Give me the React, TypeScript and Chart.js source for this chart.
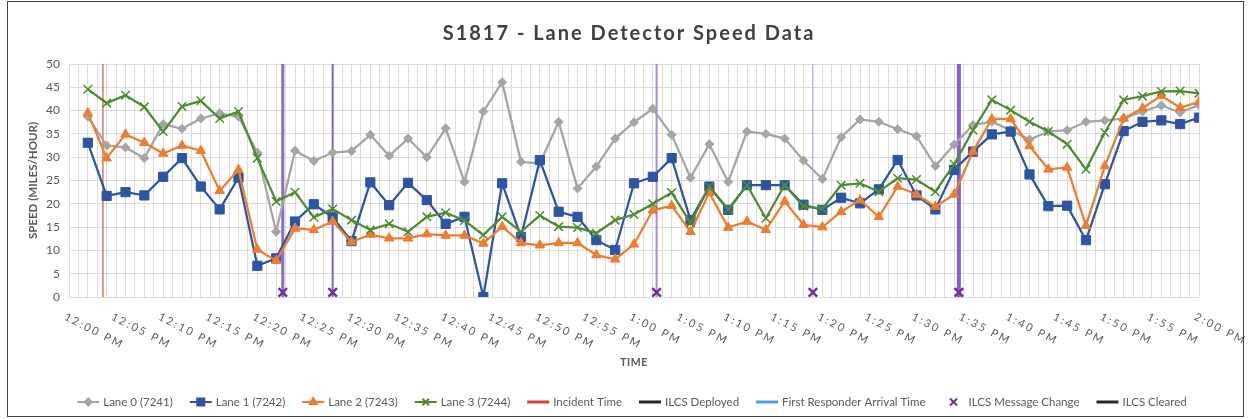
import React, { useEffect, useRef } from 'react';
import { Chart, registerables } from 'chart.js';
import { drawPoint } from 'chart.js/helpers';

Chart.register(...registerables);

const FONT = 'Lato, "Open Sans", sans-serif';

const TITLE = 'S1817 - Lane Detector Speed Data';
const Y_TITLE = 'SPEED (MILES/HOUR)';
const X_TITLE = 'TIME';

// minutes after 12:00 PM
const MINUTES = [
  2, 4, 6, 8, 10, 12, 14, 16, 18, 20, 22, 24, 26, 28, 30, 32, 34, 36, 38, 40,
  42, 44, 46, 48, 50, 52, 54, 56, 58, 60, 62, 64, 66, 68, 70, 72, 74, 76, 78, 80,
  82, 84, 86, 88, 90, 92, 94, 96, 98, 100, 102, 104, 106, 108, 110, 112, 114, 116, 118, 120,
];

const TICK_MINUTES = [0, 5, 10, 15, 20, 25, 30, 35, 40, 45, 50, 55, 60, 65, 70, 75, 80, 85, 90, 95, 100, 105, 110, 115, 120];
const TICK_LABELS = [
  '12:00 PM', '12:05 PM', '12:10 PM', '12:15 PM', '12:20 PM', '12:25 PM', '12:30 PM', '12:35 PM',
  '12:40 PM', '12:45 PM', '12:50 PM', '12:55 PM', '1:00 PM', '1:05 PM', '1:10 PM', '1:15 PM',
  '1:20 PM', '1:25 PM', '1:30 PM', '1:35 PM', '1:40 PM', '1:45 PM', '1:50 PM', '1:55 PM', '2:00 PM',
];

const SERIES_NAMES = ['Lane 0 (7241)', 'Lane 1 (7242)', 'Lane 2 (7243)', 'Lane 3 (7244)'];

const LANE0 = [
  38.7, 32.5, 32.1, 29.8, 37.1, 36.1, 38.3, 39.4, 38.7, 31.0,
  14.0, 31.4, 29.2, 31.0, 31.3, 34.8, 30.3, 34.0, 30.0, 36.2,
  24.7, 39.8, 46.1, 29.0, 28.7, 37.6, 23.3, 28.0, 34.0, 37.5,
  40.4, 34.8, 25.6, 32.8, 24.7, 35.5, 35.0, 34.0, 29.3, 25.3,
  34.3, 38.1, 37.6, 36.0, 34.5, 28.1, 32.7, 36.9, 37.6, 35.8,
  33.8, 35.5, 35.8, 37.6, 37.9, 38.3, 39.8, 41.1, 39.6, 41.2,
];
const LANE1 = [
  33.1, 21.7, 22.5, 21.8, 25.8, 29.8, 23.7, 18.8, 25.6, 6.7,
  8.3, 16.2, 19.9, 17.1, 12.0, 24.6, 19.7, 24.5, 20.8, 15.7,
  17.2, 0, 24.4, 12.9, 29.4, 18.3, 17.2, 12.2, 10.1, 24.4,
  25.8, 29.8, 16.5, 23.7, 18.7, 24.0, 24.0, 24.0, 19.8, 18.7,
  21.3, 20.1, 23.1, 29.4, 21.8, 18.8, 27.3, 31.2, 34.9, 35.5,
  26.3, 19.5, 19.6, 12.2, 24.2, 35.6, 37.6, 37.9, 37.1, 38.5,
];
const LANE2 = [
  39.5, 29.8, 34.9, 33.1, 30.8, 32.5, 31.4, 22.8, 27.3, 10.2,
  7.8, 14.7, 14.4, 16.2, 11.8, 13.4, 12.6, 12.6, 13.5, 13.2,
  13.2, 11.5, 15.1, 11.6, 11.1, 11.6, 11.6, 9.0, 8.1, 11.3,
  18.6, 19.6, 14.0, 22.4, 14.9, 16.2, 14.4, 20.5, 15.5, 15.0,
  18.3, 20.8, 17.2, 23.7, 22.0, 19.4, 22.0, 31.2, 38.2, 38.2,
  32.4, 27.4, 27.8, 15.3, 28.1, 38.3, 40.5, 43.2, 40.6, 41.9,
];
const LANE3 = [
  44.6, 41.6, 43.3, 40.8, 35.5, 40.9, 42.1, 38.3, 39.8, 29.8,
  20.5, 22.5, 17.1, 18.9, 16.5, 14.4, 15.7, 14.0, 17.2, 18.1,
  16.4, 13.3, 17.2, 14.0, 17.5, 15.1, 14.9, 13.7, 16.5, 17.7,
  20.0, 22.4, 15.9, 23.7, 18.8, 24.0, 16.9, 24.0, 19.5, 18.9,
  24.0, 24.4, 22.6, 25.5, 25.2, 22.6, 28.5, 35.8, 42.3, 40.1,
  37.6, 35.5, 32.8, 27.4, 35.3, 42.3, 43.1, 44.1, 44.2, 43.7,
];

const INCIDENT_TIME = 3.6;
const EVENT_LINE_TIMES = [22.7, 28.0, 62.4, 79.0, 94.5];
const MESSAGE_CHANGE_TIMES = [22.7, 28.0, 62.4, 79.0, 94.5];
const MESSAGE_CHANGE_VALUES = [1, 1, 1, 1, 1];

const LANES = [LANE0, LANE1, LANE2, LANE3];
const LANE_COLORS = ['#A5A5A5', '#2E55A3', '#ED7D31', '#4E8B31'];
const LANE_POINTS = ['rectRot', 'rect', 'triangle', 'crossRot'];
const LANE_RADII = [4.5, 6.5, 5.5, 6];
const EVENT_LINE_COLORS = ['#8C6BC5', '#7466CF', '#A98BD6', '#B7A0DE', '#8A5FC2'];
const EVENT_LINE_WIDTHS = [3, 2, 2, 1, 4];
const MARK_COLOR = '#7030A0';

const LEGEND_ITEMS = [
  { text: SERIES_NAMES[0], color: LANE_COLORS[0], line: true, lw: 2, marker: 'rectRot', r: 3.5 },
  { text: SERIES_NAMES[1], color: LANE_COLORS[1], line: true, lw: 2, marker: 'rect', r: 5 },
  { text: SERIES_NAMES[2], color: LANE_COLORS[2], line: true, lw: 2, marker: 'triangle', r: 4 },
  { text: SERIES_NAMES[3], color: LANE_COLORS[3], line: true, lw: 2, marker: 'crossRot', r: 4.5 },
  { text: 'Incident Time', color: '#E03C31', line: true, lw: 3 },
  { text: 'ILCS Deployed', color: '#262626', line: true, lw: 3 },
  { text: 'First Responder Arrival Time', color: '#4F9FE0', line: true, lw: 3 },
  { text: 'ILCS Message Change', color: MARK_COLOR, line: false, lw: 2, marker: 'crossRot', r: 5 },
  { text: 'ILCS Cleared', color: '#262626', line: true, lw: 3 },
];

const overlayPlugin = {
  id: 'overlay',
  afterDraw(chart: any) {
    const ctx: CanvasRenderingContext2D = chart.ctx;
    const xs = chart.scales.x;
    const area = chart.chartArea;
    const W = chart.width;
    ctx.save();

    // Title
    ctx.font = `bold 20px ${FONT}`;
    (ctx as any).letterSpacing = '2px';
    ctx.fillStyle = '#404040';
    ctx.textAlign = 'center';
    ctx.textBaseline = 'middle';
    ctx.fillText(TITLE, 629, 34);

    // X tick labels
    ctx.font = `11px ${FONT}`;
    (ctx as any).letterSpacing = '2.2px';
    ctx.fillStyle = '#595959';
    ctx.textAlign = 'left';
    ctx.textBaseline = 'middle';
    TICK_MINUTES.forEach((m, i) => {
      const x = xs.getPixelForValue(m);
      ctx.save();
      ctx.translate(x - 4, area.bottom + 19);
      ctx.rotate((27 * Math.PI) / 180);
      ctx.fillText(TICK_LABELS[i], 0, 0);
      ctx.restore();
    });

    // X title
    (ctx as any).letterSpacing = '0.5px';
    ctx.font = `bold 10.5px ${FONT}`;
    ctx.textAlign = 'center';
    ctx.fillText(X_TITLE, (area.left + area.right) / 2, 363);

    // Legend
    (ctx as any).letterSpacing = '0px';
    ctx.font = `11.5px ${FONT}`;
    ctx.textAlign = 'left';
    const sample = 22;
    const gapText = 4;
    const gapItem = 17;
    const widths = LEGEND_ITEMS.map((it) => sample + gapText + ctx.measureText(it.text).width);
    const total = widths.reduce((a, b) => a + b, 0) + gapItem * (LEGEND_ITEMS.length - 1);
    let x = 632 - total / 2;
    const y = 402;
    LEGEND_ITEMS.forEach((it: any, i) => {
      if (it.line) {
        ctx.strokeStyle = it.color;
        ctx.lineWidth = it.lw;
        ctx.beginPath();
        ctx.moveTo(x, y);
        ctx.lineTo(x + sample, y);
        ctx.stroke();
      }
      if (it.marker) {
        ctx.fillStyle = it.color;
        ctx.strokeStyle = it.color;
        ctx.lineWidth = it.lw;
        drawPoint(ctx, { pointStyle: it.marker, radius: it.r, rotation: 0, borderWidth: it.lw }, x + sample / 2, y);
      }
      ctx.fillStyle = '#595959';
      ctx.fillText(it.text, x + sample + gapText, y);
      x += widths[i] + gapItem;
    });

    // outer border
    ctx.strokeStyle = '#404040';
    ctx.lineWidth = 1;
    ctx.strokeRect(7.5, 1.5, W - 15, 415);
    ctx.restore();
  },
};

export default function App() {
  const ref = useRef<HTMLCanvasElement | null>(null);

  useEffect(() => {
    document.body.style.margin = '0';
    const canvas = ref.current;
    if (!canvas) return;

    const laneSets = LANES.map((lane, i) => ({
      type: 'line',
      label: SERIES_NAMES[i],
      data: MINUTES.map((m, j) => ({ x: m, y: lane[j] })),
      borderColor: LANE_COLORS[i],
      backgroundColor: LANE_COLORS[i],
      borderWidth: 2.25,
      pointStyle: LANE_POINTS[i],
      pointRadius: LANE_RADII[i],
      pointBorderWidth: i === 3 ? 1.5 : 1,
      pointBackgroundColor: LANE_COLORS[i],
      pointBorderColor: LANE_COLORS[i],
      tension: 0,
      order: 4 - i,
    }));

    const incidentSet = {
      type: 'line',
      label: 'Incident Time',
      data: [{ x: INCIDENT_TIME, y: 0 }, { x: INCIDENT_TIME, y: 50 }],
      borderColor: '#E0705F',
      borderWidth: 1.5,
      pointRadius: 0,
      order: 6,
    };

    const eventSets = EVENT_LINE_TIMES.map((t, i) => ({
      type: 'line',
      label: 'event' + i,
      data: [{ x: t, y: 0 }, { x: t, y: 50 }],
      borderColor: EVENT_LINE_COLORS[i],
      borderWidth: EVENT_LINE_WIDTHS[i],
      pointRadius: 0,
      order: 6,
    }));

    const markSet = {
      type: 'line',
      label: 'ILCS Message Change',
      data: MESSAGE_CHANGE_TIMES.map((t, i) => ({ x: t, y: MESSAGE_CHANGE_VALUES[i] })),
      showLine: false,
      pointStyle: 'crossRot',
      pointRadius: 6,
      pointBorderWidth: 2.5,
      pointBorderColor: MARK_COLOR,
      pointBackgroundColor: MARK_COLOR,
      borderColor: MARK_COLOR,
      clip: false,
      order: 0,
    };

    const chart = new Chart(canvas, {
      type: 'line',
      data: { datasets: [...laneSets, incidentSet, ...eventSets, markSet] as any },
      options: {
        animation: false,
        responsive: true,
        maintainAspectRatio: false,
        layout: { padding: { top: 64, right: 52, bottom: 0, left: 0 } },
        plugins: {
          legend: { display: false },
          tooltip: { enabled: false },
          title: { display: false },
        },
        scales: {
          x: {
            type: 'linear',
            min: 0,
            max: 120,
            ticks: { display: false, stepSize: 1, autoSkip: false },
            grid: { color: '#DCDCDC', drawTicks: false },
            border: { display: false },
            afterFit: (s: any) => {
              s.height = 122;
            },
          },
          y: {
            min: 0,
            max: 50,
            ticks: { stepSize: 5, color: '#595959', font: { family: FONT, size: 12 }, padding: 9 },
            grid: { color: '#DCDCDC', drawTicks: false },
            border: { display: false },
            title: {
              display: true,
              text: Y_TITLE,
              color: '#595959',
              font: { family: FONT, size: 11.5, weight: 'bold' },
              padding: { top: 26, bottom: 0 },
            },
            afterFit: (s: any) => {
              s.width = 69;
            },
          },
        },
      } as any,
      plugins: [overlayPlugin],
    });

    return () => chart.destroy();
  }, []);

  return (
    <div style={{ position: 'relative', width: 1251, height: 419 }}>
      <canvas ref={ref} />
    </div>
  );
}
